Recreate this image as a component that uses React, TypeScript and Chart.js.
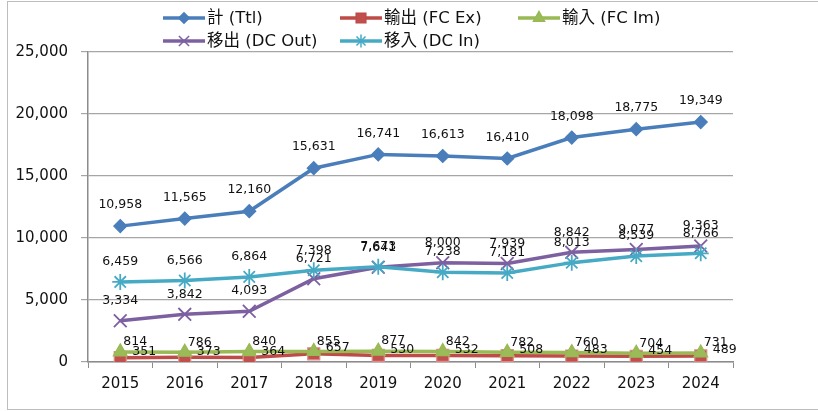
import React, { useEffect, useRef } from 'react';
import { Chart, registerables } from 'chart.js';
import { drawPoint } from 'chart.js/helpers';

Chart.register(...registerables);

const years = ['2015', '2016', '2017', '2018', '2019', '2020', '2021', '2022', '2023', '2024'];
const total = [10958, 11565, 12160, 15631, 16741, 16613, 16410, 18098, 18775, 19349];
const fcEx = [351, 373, 364, 657, 530, 532, 508, 483, 454, 489];
const fcIm = [814, 786, 840, 855, 877, 842, 782, 760, 704, 731];
const dcOut = [3334, 3842, 4093, 6721, 7641, 8000, 7939, 8842, 9077, 9363];
const dcIn = [6459, 6566, 6864, 7398, 7673, 7238, 7181, 8013, 8539, 8766];
const seriesNames = ['計 (Ttl)', '輸出 (FC Ex)', '輸入 (FC Im)', '移出 (DC Out)', '移入 (DC In)'];
const yMin = 0;
const yMax = 25000;
const yStep = 5000;

const colors = ['#4A7EBB', '#BE4B48', '#98B954', '#7D60A0', '#46AAC5'];
const markerFill = ['#4A7EBB', '#C0504D', '#9BBB59', '#8064A2', '#4BACC6'];
const pointStyles = ['rectRot', 'rect', 'triangle', 'crossRot', 'star'];
const pointRadii = [6.5, 8.5, 8, 9, 8];
// label offsets: [dx, dy, align]
const labelOffsets: [number, number, CanvasTextAlign][] = [
  [0, -21, 'center'],
  [12, -6, 'left'],
  [15, -10, 'center'],
  [0, -20, 'center'],
  [0, -20, 'center'],
];

const fmt = (v: number) => v.toLocaleString('en-US');
const FONT = '"DejaVu Sans", "Noto Sans CJK TC", sans-serif';

const labelPlugin = {
  id: 'valueLabels',
  afterDatasetsDraw(chart: any) {
    const ctx = chart.ctx;
    ctx.save();
    ctx.font = `12.5px ${FONT}`;
    ctx.fillStyle = '#111';
    ctx.textBaseline = 'middle';
    chart.data.datasets.forEach((ds: any, di: number) => {
      const meta = chart.getDatasetMeta(di);
      const [dx, dy, align] = labelOffsets[di];
      ctx.textAlign = align;
      meta.data.forEach((pt: any, i: number) => {
        ctx.fillText(fmt(ds.data[i]), pt.x + dx, pt.y + dy);
      });
    });
    ctx.restore();
  },
};

const legendLayout = [
  [163, 18],
  [340, 18],
  [518, 18],
  [163, 41],
  [340, 41],
];

const legendPlugin = {
  id: 'customLegend',
  afterDraw(chart: any) {
    const ctx = chart.ctx;
    ctx.save();
    chart.data.datasets.forEach((ds: any, di: number) => {
      const [x, y] = legendLayout[di];
      ctx.strokeStyle = colors[di];
      ctx.lineWidth = 3.5;
      ctx.beginPath();
      ctx.moveTo(x, y);
      ctx.lineTo(x + 42, y);
      ctx.stroke();
      ctx.fillStyle = markerFill[di];
      ctx.strokeStyle = colors[di];
      ctx.lineWidth = 1.5;
      drawPoint(ctx, { pointStyle: pointStyles[di], radius: pointRadii[di] * 0.8, rotation: 0, borderWidth: 1.5 } as any, x + 21, y);
      ctx.fillStyle = '#111';
      ctx.font = `16.5px ${FONT}`;
      ctx.textAlign = 'left';
      ctx.textBaseline = 'middle';
      ctx.fillText(ds.label, x + 44, y + 1);
    });
    ctx.restore();
  },
};

export default function App() {
  const ref = useRef<HTMLCanvasElement | null>(null);
  useEffect(() => {
    if (!ref.current) return;
    const series = [total, fcEx, fcIm, dcOut, dcIn];
    const chart = new Chart(ref.current, {
      type: 'line',
      data: {
        labels: years,
        datasets: series.map((d, i) => ({
          label: seriesNames[i],
          data: d,
          borderColor: colors[i],
          backgroundColor: markerFill[i],
          borderWidth: 3.5,
          pointStyle: pointStyles[i] as any,
          pointRadius: pointRadii[i],
          pointBorderWidth: i >= 3 ? 1.8 : 1.2,
          pointBorderColor: i === 1 ? '#E08A88' : colors[i],
          pointBackgroundColor: markerFill[i],
          tension: 0,
          order: 5 - i,
        })),
      },
      options: {
        responsive: false,
        animation: false,
        layout: { padding: { left: 0, right: 85, top: 52, bottom: 0 } },
        plugins: { legend: { display: false }, tooltip: { enabled: false } },
        scales: {
          x: {
            type: 'category',
            offset: true,
            grid: { drawOnChartArea: false, tickLength: 6, color: '#8c8c8c', offset: true },
            border: { color: '#8c8c8c', width: 1.5 },
            ticks: { color: '#111', font: { family: FONT, size: 15 }, padding: 7 },
            afterFit: (s: any) => { s.height = 49; },
          },
          y: {
            min: yMin,
            max: yMax,
            grid: { color: '#a6a6a6', tickLength: 7, lineWidth: 1.2 },
            border: { color: '#8c8c8c', width: 1.5 },
            ticks: { stepSize: yStep, color: '#111', font: { family: FONT, size: 15 }, padding: 13, callback: (v: any) => fmt(Number(v)) },
            afterFit: (s: any) => { s.width = 88; },
          },
        },
      },
      plugins: [labelPlugin, legendPlugin],
    });
    return () => chart.destroy();
  }, []);
  return (
    <div style={{ position: 'absolute', left: 0, top: 0, width: 818, height: 411, background: '#fff', overflow: 'hidden' }}>
      <div style={{ position: 'absolute', left: 7, top: 1, width: 830, height: 407, border: '1px solid #bdbdbd' }} />
      <canvas ref={ref} width={818} height={411} style={{ position: 'absolute', left: 0, top: 0 }} />
    </div>
  );
}
